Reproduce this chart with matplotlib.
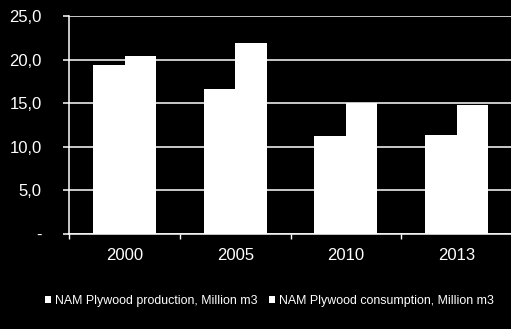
import matplotlib
matplotlib.use("Agg")
import matplotlib.pyplot as plt
import numpy as np

years = ["2000", "2005", "2010", "2013"]
production = [19.4, 16.6, 11.2, 11.4]
consumption = [20.4, 21.9, 15.0, 14.8]
y_ticks = [0, 5, 10, 15, 20, 25]
y_tick_labels = ["-", "5,0", "10,0", "15,0", "20,0", "25,0"]
series_names = ["NAM Plywood production, Million m3",
                "NAM Plywood consumption, Million m3"]

plt.rcParams["font.family"] = ["Liberation Sans", "DejaVu Sans"]

fig = plt.figure(figsize=(5.11, 3.29), dpi=100, facecolor="black")
ax = fig.add_axes([0.1356, 0.2888, 0.866, 0.6626], facecolor="black")

x = np.arange(len(years))
w = 0.285
ax.bar(x - w / 2, production, w, color="white", label=series_names[0], zorder=3)
ax.bar(x + w / 2, consumption, w, color="white", label=series_names[1], zorder=3)

ax.set_xlim(-0.5, len(years) - 0.5)
ax.set_ylim(0, 25)
ax.set_yticks(y_ticks)
ax.set_yticklabels(y_tick_labels)
ax.yaxis.grid(True, color="white", linewidth=1.1, zorder=1)
ax.set_axisbelow(True)

ax.set_xticks(x)
ax.set_xticklabels(years)
ax.set_xticks(np.arange(len(years) + 1) - 0.5, minor=True)
ax.tick_params(axis="x", which="major", length=0, pad=10, colors="white", labelsize=12)
ax.tick_params(axis="x", which="minor", length=3.8, width=1, color="white")
ax.tick_params(axis="y", length=4.3, width=1.1, color="white", labelcolor="white",
               labelsize=12, pad=15.5)

for side in ("top", "right"):
    ax.spines[side].set_visible(False)
for side in ("left", "bottom"):
    ax.spines[side].set_color("white")
    ax.spines[side].set_linewidth(1.1)

leg = fig.legend(loc="center", bbox_to_anchor=(0.527, 0.085), ncol=2, frameon=False,
                 fontsize=8.9, labelcolor="white", handlelength=0.5, handleheight=0.5,
                 handletextpad=0.3, columnspacing=0.9)

fig.savefig("out.png", dpi=100, facecolor="black")
